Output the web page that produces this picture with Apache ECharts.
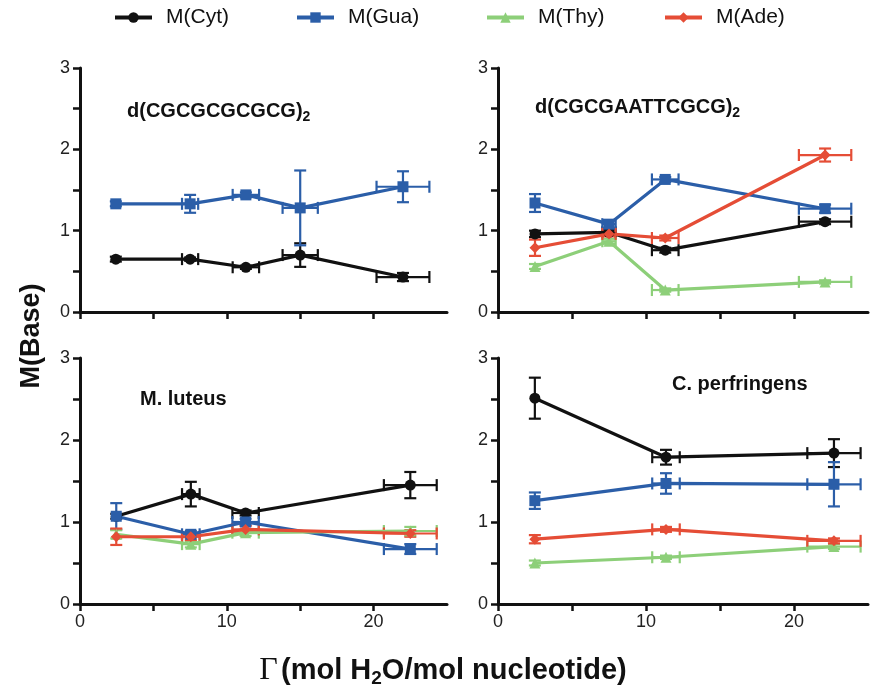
<!DOCTYPE html>
<html>
<head>
<meta charset="utf-8">
<script src="https://cdn.jsdelivr.net/npm/echarts@6/dist/echarts.min.js"></script>
<style>
html,body{margin:0;padding:0;background:#fff;}
#chart{width:880px;height:696px;}
</style>
</head>
<body>
<div id="chart"></div>
<script>
// ---- tick labels ----
const xTicks = [0, 5, 10, 15, 20];
const xLabels = [0, 10, 20];
const yTicks = [0, 0.5, 1, 1.5, 2, 2.5, 3];
const yLabels = [0, 1, 2, 3];
const seriesNames = ['M(Cyt)', 'M(Gua)', 'M(Thy)', 'M(Ade)'];
const panelTitles = ['d(CGCGCGCGCG)', 'd(CGCGAATTCGCG)', 'M. luteus', 'C. perfringens'];

// ---- panel 1: d(CGCGCGCGCG)2 ----
const p1X = [2.44, 7.5, 11.3, 15.0, 22.0];
const p1XErr = [0, 0.55, 0.9, 1.2, 1.8];
const p1Cyt = [0.65, 0.65, 0.55, 0.70, 0.43];
const p1CytErr = [0.03, 0.02, 0.02, 0.145, 0.05];
const p1Gua = [1.33, 1.33, 1.44, 1.28, 1.54];
const p1GuaErr = [0.03, 0.11, 0.03, 0.46, 0.19];

// ---- panel 2: d(CGCGAATTCGCG)2 ----
const p2X = [2.5, 7.5, 11.3, 22.1];
const p2XErr = [0, 0.45, 0.9, 1.77];
const p2Cyt = [0.96, 0.98, 0.76, 1.11];
const p2CytErr = [0.04, 0.03, 0.03, 0.03];
const p2Gua = [1.34, 1.08, 1.63, 1.27];
const p2GuaErr = [0.11, 0.05, 0.03, 0.05];
const p2Thy = [0.56, 0.87, 0.27, 0.37];
const p2ThyErr = [0.03, 0.03, 0.02, 0.02];
const p2Ade = [0.79, 0.96, 0.91, 1.93];
const p2AdeErr = [0.1, 0.03, 0.03, 0.08];

// ---- panel 3: M. luteus ----
const p3X = [2.47, 7.55, 11.28, 22.5];
const p3XErr = [0, 0.6, 0.9, 1.8];
const p3Cyt = [1.07, 1.34, 1.11, 1.45];
const p3CytErr = [0.03, 0.15, 0.03, 0.16];
const p3Gua = [1.07, 0.85, 1.0, 0.67];
const p3GuaErr = [0.16, 0.04, 0.04, 0.06];
const p3Thy = [0.85, 0.73, 0.87, 0.89];
const p3ThyErr = [0.05, 0.04, 0.04, 0.05];
const p3Ade = [0.82, 0.82, 0.91, 0.86];
const p3AdeErr = [0.1, 0.04, 0.04, 0.04];

// ---- panel 4: C. perfringens ----
const p4X = [2.49, 11.35, 22.7];
const p4XErr = [0, 0.93, 1.8];
const p4Cyt = [2.51, 1.79, 1.84];
const p4CytErr = [0.25, 0.09, 0.17];
const p4Gua = [1.26, 1.47, 1.46];
const p4GuaErr = [0.1, 0.125, 0.27];
const p4Thy = [0.5, 0.57, 0.70];
const p4ThyErr = [0.03, 0.02, 0.03];
const p4Ade = [0.79, 0.91, 0.77];
const p4AdeErr = [0.05, 0.03, 0.03];

// ---- styling ----
const FONT = 'Liberation Sans, Arial, sans-serif';
const styles = {
  'M(Cyt)': { color: '#111111', symbol: 'circle', size: 11 },
  'M(Gua)': { color: '#2b5ea8', symbol: 'rect', size: 11 },
  'M(Thy)': { color: '#8dcf79', symbol: 'triangle', size: 11 },
  'M(Ade)': { color: '#e54d36', symbol: 'diamond', size: 11 }
};

const panels = [
  { x: p1X, xe: p1XErr, s: { 'M(Cyt)': [p1Cyt, p1CytErr], 'M(Gua)': [p1Gua, p1GuaErr] } },
  { x: p2X, xe: p2XErr, s: { 'M(Cyt)': [p2Cyt, p2CytErr], 'M(Gua)': [p2Gua, p2GuaErr], 'M(Thy)': [p2Thy, p2ThyErr], 'M(Ade)': [p2Ade, p2AdeErr] } },
  { x: p3X, xe: p3XErr, s: { 'M(Cyt)': [p3Cyt, p3CytErr], 'M(Gua)': [p3Gua, p3GuaErr], 'M(Thy)': [p3Thy, p3ThyErr], 'M(Ade)': [p3Ade, p3AdeErr] } },
  { x: p4X, xe: p4XErr, s: { 'M(Cyt)': [p4Cyt, p4CytErr], 'M(Gua)': [p4Gua, p4GuaErr], 'M(Thy)': [p4Thy, p4ThyErr], 'M(Ade)': [p4Ade, p4AdeErr] } }
];

const grids = [
  { left: 80, top: 68, width: 367, height: 244 },
  { left: 498, top: 68, width: 370, height: 244 },
  { left: 80, top: 358, width: 367, height: 246 },
  { left: 498, top: 358, width: 370, height: 246 }
];

function makeX(i, showLabels) {
  return {
    type: 'value', gridIndex: i, min: 0, max: 25, interval: 5,
    axisLine: { show: true, onZero: false, lineStyle: { color: '#111', width: 3 } },
    axisTick: { show: true, length: 7, lineStyle: { color: '#111', width: 2.5 }, customValues: xTicks },
    axisLabel: { show: showLabels, customValues: xLabels, fontSize: 18, color: '#222', margin: 9, fontFamily: FONT },
    splitLine: { show: false }
  };
}
function makeY(i) {
  return {
    type: 'value', gridIndex: i, min: 0, max: 3, interval: 0.5,
    axisLine: { show: true, onZero: false, lineStyle: { color: '#111', width: 3 } },
    axisTick: { show: true, length: 7, lineStyle: { color: '#111', width: 2.5 }, customValues: yTicks },
    axisLabel: { show: true, customValues: yLabels, fontSize: 18, color: '#222', margin: 10, fontFamily: FONT },
    splitLine: { show: false }
  };
}

function errRender(color) {
  return function (params, api) {
    const x = api.value(0), y = api.value(1), xe = api.value(2), ye = api.value(3);
    const c = api.coord([x, y]);
    const cap = 6;
    const st = { stroke: color, lineWidth: 2.2 };
    const ch = [];
    if (ye > 0) {
      const t = api.coord([x, y + ye]), b = api.coord([x, y - ye]);
      ch.push({ type: 'line', shape: { x1: c[0], y1: t[1], x2: c[0], y2: b[1] }, style: st });
      ch.push({ type: 'line', shape: { x1: c[0] - cap, y1: t[1], x2: c[0] + cap, y2: t[1] }, style: st });
      ch.push({ type: 'line', shape: { x1: c[0] - cap, y1: b[1], x2: c[0] + cap, y2: b[1] }, style: st });
    }
    if (xe > 0) {
      const l = api.coord([x - xe, y]), r = api.coord([x + xe, y]);
      ch.push({ type: 'line', shape: { x1: l[0], y1: c[1], x2: r[0], y2: c[1] }, style: st });
      ch.push({ type: 'line', shape: { x1: l[0], y1: c[1] - cap, x2: l[0], y2: c[1] + cap }, style: st });
      ch.push({ type: 'line', shape: { x1: r[0], y1: c[1] - cap, x2: r[0], y2: c[1] + cap }, style: st });
    }
    return { type: 'group', children: ch };
  };
}

const series = [];
panels.forEach((p, i) => {
  seriesNames.forEach(name => {
    if (!p.s[name]) return;
    const [vals, errs] = p.s[name];
    const st = styles[name];
    series.push({
      name: name, type: 'line', xAxisIndex: i, yAxisIndex: i,
      data: p.x.map((xv, k) => [xv, vals[k]]),
      symbol: st.symbol, symbolSize: st.size,
      lineStyle: { color: st.color, width: 3.2 },
      itemStyle: { color: st.color },
      z: 3, animation: false, clip: false
    });
    series.push({
      type: 'custom', xAxisIndex: i, yAxisIndex: i,
      data: p.x.map((xv, k) => [xv, vals[k], p.xe[k], errs[k]]),
      encode: { x: 0, y: 1 },
      renderItem: errRender(st.color),
      z: 2, animation: false, clip: false, silent: true
    });
  });
});

const legendLeft = [113, 295, 485, 663];
const legends = seriesNames.map((n, i) => ({
  data: [n], left: legendLeft[i], top: 7, padding: 0, itemWidth: 37, itemHeight: 13,
  lineStyle: { width: 4 },
  textStyle: { fontSize: 21, color: '#111', fontFamily: FONT, padding: [0, 0, 0, 9] },
  selectedMode: false
}));

const titleRich = {
  m: { fontSize: 20, fontWeight: 'bold', color: '#111', fontFamily: FONT, lineHeight: 26 },
  s: { fontSize: 14, fontWeight: 'bold', color: '#111', fontFamily: FONT, lineHeight: 26, padding: [13, 0, 0, 0] }
};
const titlePos = [[127, 98], [535, 94], [140, 386], [672, 371]];
const titles = panelTitles.map((t, i) => ({
  text: i < 2 ? '{m|' + t + '}{s|2}' : '{m|' + t + '}',
  left: titlePos[i][0], top: titlePos[i][1], padding: 0,
  textStyle: { rich: titleRich }
}));

const chart = echarts.init(document.getElementById('chart'), null, { renderer: 'canvas' });
chart.setOption({
  backgroundColor: '#fff',
  animation: false,
  title: titles,
  legend: legends,
  grid: grids,
  xAxis: [makeX(0, false), makeX(1, false), makeX(2, true), makeX(3, true)],
  yAxis: [makeY(0), makeY(1), makeY(2), makeY(3)],
  series: series,
  graphic: [
    {
      type: 'text', x: 32, y: 336, rotation: Math.PI / 2,
      style: { text: 'M(Base)', font: 'bold 27px ' + FONT, fill: '#111', align: 'center', verticalAlign: 'middle' }
    },
    {
      type: 'text', x: 443, y: 671,
      style: {
        text: '{g|Γ} {b|(mol H}{s|2}{b|O/mol nucleotide)}',
        align: 'center', verticalAlign: 'middle',
        rich: {
          g: { fontSize: 32, fontFamily: 'Liberation Serif, Times New Roman, serif', fill: '#111', lineHeight: 34 },
          b: { fontSize: 29, fontWeight: 'bold', fontFamily: FONT, fill: '#111', lineHeight: 34 },
          s: { fontSize: 19, fontWeight: 'bold', fontFamily: FONT, fill: '#111', lineHeight: 34, padding: [16, 0, 0, 0] }
        }
      }
    }
  ]
});
</script>
</body>
</html>
